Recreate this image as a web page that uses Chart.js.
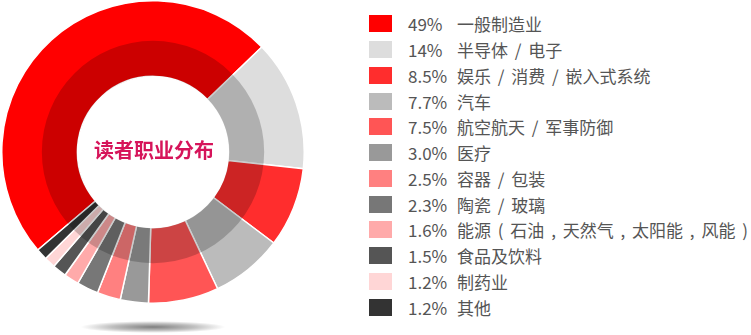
<!DOCTYPE html>
<html>
<head>
<meta charset="utf-8">
<script src="https://cdn.jsdelivr.net/npm/chart.js@4/dist/chart.umd.min.js"></script>
<style>
  html, body { margin: 0; padding: 0; background: #fff; }
  body { width: 751px; height: 335px; position: relative; overflow: hidden;
         font-family: "Noto Sans CJK SC", "Noto Sans", sans-serif; }
  #shadow { position: absolute; left: 80px; top: 321px; width: 146px; height: 12px;
            background: radial-gradient(ellipse at center, rgba(0,0,0,0.5) 0%, rgba(0,0,0,0.25) 40%, rgba(0,0,0,0) 70%); }
  #wrap { position: absolute; left: 1px; top: 0px; width: 304px; height: 304px; }
  #legend { position: absolute; left: 369px; top: 11px; margin: 0; padding: 0; list-style: none; }
  #legend li { height: 25.75px; display: flex; align-items: center; font-size: 17px; color: #555;
               white-space: pre; }
  #legend .box { width: 23px; height: 17px; margin-right: 16px; flex: none; }
  #legend .pct { width: 49px; flex: none; }
  #legend .name { word-spacing: 3px; }
</style>
</head>
<body>
<div id="shadow"></div>
<div id="wrap"><canvas id="c"></canvas></div>
<ul id="legend"></ul>
<script>
// Reader occupation breakdown
const categories = [
  "一般制造业", "半导体 / 电子", "娱乐 / 消费 / 嵌入式系统", "汽车",
  "航空航天 / 军事防御", "医疗", "容器 / 包装", "陶瓷 / 玻璃",
  "能源 ( 石油 , 天然气 , 太阳能 , 风能 )", "食品及饮料", "制药业", "其他"
];
const percentLabels = ["49%", "14%", "8.5%", "7.7%", "7.5%", "3.0%", "2.5%", "2.3%", "1.6%", "1.5%", "1.2%", "1.2%"];
const shares = [49, 14, 8.5, 7.7, 7.5, 3.0, 2.5, 2.3, 1.6, 1.5, 1.2, 1.2];
const sliceColors = [
  "#FF0000", "#DDDDDD", "#FF2D2D", "#BBBBBB", "#FF5555", "#999999",
  "#FF8080", "#777777", "#FFAAAA", "#555555", "#FFD6D6", "#333333"
];
const centerTitle = "读者职业分布";

// legend rows
const legend = document.getElementById("legend");
categories.forEach((name, i) => {
  const li = document.createElement("li");
  const box = document.createElement("span");
  box.className = "box";
  box.style.background = sliceColors[i];
  const pct = document.createElement("span");
  pct.className = "pct";
  pct.textContent = percentLabels[i];
  const label = document.createElement("span");
  label.className = "name";
  label.textContent = name;
  li.append(box, pct, label);
  legend.appendChild(li);
});

// darkens the inner part of the ring and writes the title in the hole
const innerBand = {
  id: "innerBand",
  afterDatasetsDraw(chart) {
    const arc = chart.getDatasetMeta(0).data[0];
    if (!arc) return;
    const { x, y, innerRadius, outerRadius } = arc.getProps(["x", "y", "innerRadius", "outerRadius"], true);
    const bandOuter = innerRadius + (outerRadius - innerRadius) * 0.47;
    const ctx = chart.ctx;
    ctx.save();
    ctx.beginPath();
    ctx.arc(x, y, bandOuter, 0, Math.PI * 2);
    ctx.arc(x, y, innerRadius + 0.5, 0, Math.PI * 2, true);
    ctx.fillStyle = "rgba(0,0,0,0.2)";
    ctx.fill("evenodd");
    ctx.font = "bold 20px 'Noto Sans CJK SC', sans-serif";
    ctx.fillStyle = "#D6145A";
    ctx.textAlign = "center";
    ctx.textBaseline = "middle";
    ctx.fillText(centerTitle, x + 1, y - 2);
    ctx.restore();
  }
};

new Chart(document.getElementById("c"), {
  type: "doughnut",
  data: {
    labels: categories,
    datasets: [{
      data: shares,
      backgroundColor: sliceColors,
      borderColor: "#ffffff",
      borderWidth: 1.5,
      hoverOffset: 0
    }]
  },
  options: {
    responsive: true,
    maintainAspectRatio: false,
    animation: false,
    rotation: -130.4,
    cutout: "50%",
    layout: { padding: 0 },
    plugins: { legend: { display: false }, tooltip: { enabled: false } }
  },
  plugins: [innerBand]
});
</script>
</body>
</html>
